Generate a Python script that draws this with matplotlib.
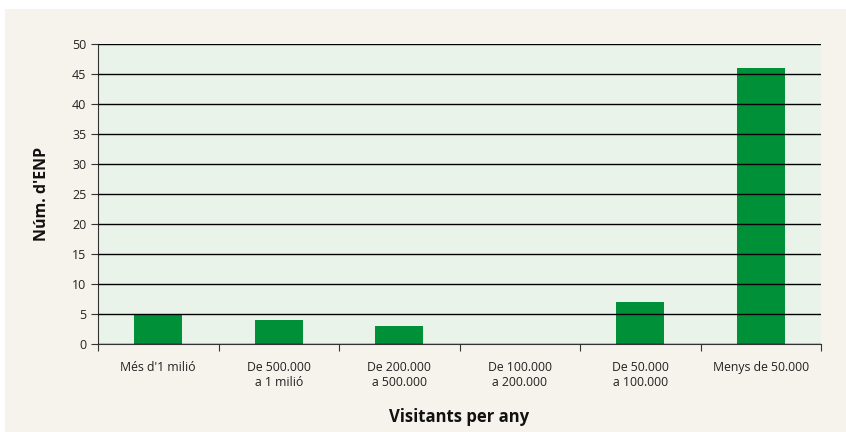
import matplotlib
matplotlib.use("Agg")
import matplotlib.pyplot as plt
from matplotlib.patches import Rectangle

categories = ["Més d'1 milió", "De 500.000\na 1 milió", "De 200.000\na 500.000",
              "De 100.000\na 200.000", "De 50.000\na 100.000", "Menys de 50.000"]
values = [5, 4, 3, 0, 7, 46]
yticks = [0, 5, 10, 15, 20, 25, 30, 35, 40, 45, 50]

plt.rcParams['font.family'] = ['Open Sans', 'DejaVu Sans']

W, H = 846, 432
fig = plt.figure(figsize=(W/100, H/100), dpi=100)
fig.patch.set_facecolor('white')
fig.patches.append(Rectangle((5/W, -0.01), 1.01 - 5/W, 1.01 - 9/H, transform=fig.transFigure,
                             facecolor='#f6f2ec', edgecolor='none', zorder=-10))

left, right, top, bottom = 98, 821, 44, 344
ax = fig.add_axes([left/W, 1 - bottom/H, (right-left)/W, (bottom-top)/H])
ax.set_facecolor('#eaf3ea')

x = list(range(len(categories)))
ax.bar(x, values, width=0.4, color='#009138', zorder=1)
ax.set_xlim(-0.5, len(categories) - 0.5)
ax.set_ylim(0, 50)
ax.set_yticks(yticks)
ax.yaxis.grid(True, color='black', linewidth=1.0, zorder=3)
ax.set_axisbelow(False)

ax.set_xticks([i - 0.5 for i in range(len(categories) + 1)])
ax.set_xticklabels([])
ax.set_xticks(x, minor=True)
ax.set_xticklabels(categories, minor=True, fontsize=8.8, color='#222222')
ax.tick_params(axis='x', which='minor', length=0, pad=12)
ax.tick_params(axis='x', which='major', length=5, color='#333333')
ax.tick_params(axis='y', length=5, labelsize=9, labelcolor='#222222', color='#333333')

for s in ['top', 'right']:
    ax.spines[s].set_visible(False)
for s in ['left', 'bottom']:
    ax.spines[s].set_color('#333333')

ax.set_ylabel("Núm. d'ENP", fontsize=11.5, fontweight='bold', labelpad=16, color='#111111')
ax.set_xlabel("Visitants per any", fontsize=12, fontweight='bold', labelpad=14, color='#111111')

fig.savefig('out.png', dpi=100, facecolor=fig.get_facecolor())
